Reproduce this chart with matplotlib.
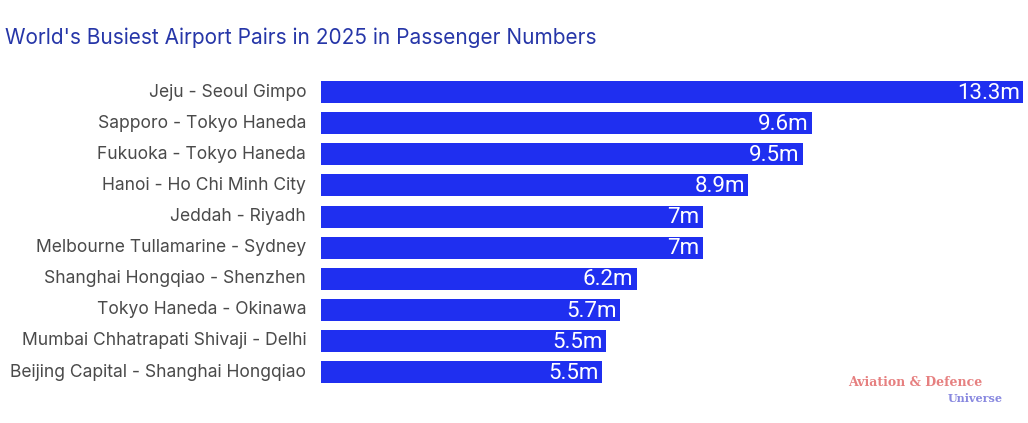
import matplotlib.pyplot as plt

routes = ["Jeju - Seoul Gimpo", "Sapporo - Tokyo Haneda", "Fukuoka - Tokyo Haneda",
          "Hanoi - Ho Chi Minh City", "Jeddah - Riyadh", "Melbourne Tullamarine - Sydney",
          "Shanghai Hongqiao - Shenzhen", "Tokyo Haneda - Okinawa",
          "Mumbai Chhatrapati Shivaji - Delhi", "Beijing Capital - Shanghai Hongqiao"]
# printed values (millions of passengers)
labels = ["13.3m", "9.6m", "9.5m", "8.9m", "7m", "7m", "6.2m", "5.7m", "5.5m", "5.5m"]
# bar lengths as drawn in the picture
bar_len = [13.3, 9.3, 9.13, 8.09, 7.23, 7.23, 5.98, 5.66, 5.40, 5.32]

W, H = 1028, 423
fig = plt.figure(figsize=(W / 100, H / 100), dpi=100)
ax = fig.add_axes([321 / W, 35.4 / H, 702 / W, 311 / H])

y = list(range(len(routes)))
ax.barh(y, bar_len, height=0.71, color="#1f2ff0")
ax.set_xlim(0, 13.3)
ax.set_ylim(len(routes) - 0.5, -0.5)

for i in y:
    ax.text(bar_len[i] - 0.06, i + 0.04, labels[i], ha="right", va="center",
            color="white", fontsize=16, family="Roboto")
    ax.text(-0.28, i, routes[i], ha="right", va="center", color="#4a4a4a",
            fontsize=12.6, family="Inter")

ax.set_xticks([])
ax.set_yticks([])
for s in ax.spines.values():
    s.set_visible(False)

fig.text(5 / W, 1 - 38 / H, "World's Busiest Airport Pairs in 2025 in Passenger Numbers",
         color="#2636a8", fontsize=15, family="Inter", va="center", ha="left")

# watermark
fig.text(915 / W, 1 - 382 / H, "Aviation & Defence", color="#e06060", fontsize=9,
         family="DejaVu Serif", fontweight="bold", ha="center", va="center", alpha=0.8)
fig.text(975 / W, 1 - 398 / H, "Universe", color="#6a6ad8", fontsize=8,
         family="DejaVu Serif", fontweight="bold", ha="center", va="center", alpha=0.8)

fig.savefig("out.png", dpi=100)
